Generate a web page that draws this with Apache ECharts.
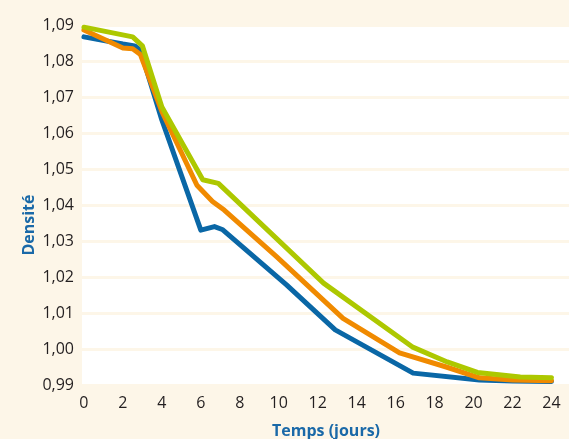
<!DOCTYPE html>
<html>
<head>
<meta charset="utf-8">
<script src="https://cdn.jsdelivr.net/npm/echarts@6/dist/echarts.min.js"></script>
<style>
html,body{margin:0;padding:0;background:#fdf6e8;}
#chart{width:569px;height:439px;}
</style>
</head>
<body>
<div id="chart"></div>
<script>
// Data (Temps en jours, Densité)
var blueDays  = [0, 2, 2.6, 2.9, 4, 6.0, 6.7, 7.1, 10.4, 12.9, 16.9, 20.3, 22, 24];
var blueVals  = [1.0867, 1.0847, 1.0842, 1.0830, 1.0636, 1.0330, 1.0340, 1.0332, 1.0178, 1.0053, 0.9933, 0.9914, 0.9911, 0.9910];
var orangeDays = [0, 2, 2.5, 2.9, 4, 5.8, 6.6, 7.2, 9.9, 13.3, 16.2, 18.6, 20.3, 22, 24];
var orangeVals = [1.0886, 1.0836, 1.0834, 1.0818, 1.0660, 1.0455, 1.0410, 1.0386, 1.0256, 1.0085, 0.9989, 0.9950, 0.9920, 0.9914, 0.9912];
var greenDays = [0, 2.5, 3, 4, 6.1, 6.9, 12.3, 16.85, 18.65, 20.2, 22.4, 24];
var greenVals = [1.0894, 1.0867, 1.0842, 1.0672, 1.0470, 1.0460, 1.0183, 1.0006, 0.9964, 0.9935, 0.9922, 0.9920];
var xTicks = [0, 2, 4, 6, 8, 10, 12, 14, 16, 18, 20, 22, 24];
var yMin = 0.99, yMax = 1.09, yStep = 0.01;
var yTitle = 'Densité';
var xTitle = 'Temps (jours)';

function pairs(xs, ys) { return xs.map(function (x, i) { return [x, ys[i]]; }); }

var chart = echarts.init(document.getElementById('chart'), null, {renderer: 'canvas'});
var font = '"Open Sans", "Noto Sans", sans-serif';
function lineSeries(name, data, color) {
  return {
    name: name, type: 'line', data: data, showSymbol: false, symbol: 'none',
    lineStyle: {color: color, width: 5, cap: 'round', join: 'round'},
    animation: false
  };
}
chart.setOption({
  backgroundColor: '#fdf6e8',
  animation: false,
  grid: {left: 82, right: 0, top: 25, bottom: 54, show: true, backgroundColor: '#ffffff', borderWidth: 0},
  xAxis: {
    type: 'value', min: -0.1, max: 24.9,
    axisLine: {show: false}, axisTick: {show: false}, splitLine: {show: false},
    axisLabel: {customValues: xTicks, color: '#231f20', fontSize: 16, fontFamily: font, margin: 10}
  },
  yAxis: {
    type: 'value', min: yMin, max: yMax, interval: yStep,
    axisLine: {show: false}, axisTick: {show: false},
    splitLine: {show: true, lineStyle: {color: '#fdf6e8', width: 3}},
    axisLabel: {
      color: '#231f20', fontSize: 16, fontFamily: font, margin: 8,
      formatter: function (v) { return v.toFixed(2).replace('.', ','); }
    }
  },
  series: [
    lineSeries('A', pairs(blueDays, blueVals), '#0a67a6'),
    lineSeries('B', pairs(orangeDays, orangeVals), '#f08a00'),
    lineSeries('C', pairs(greenDays, greenVals), '#adc800')
  ],
  graphic: [
    {type: 'text', x: 29, y: 225, rotation: Math.PI / 2,
     style: {text: yTitle, fill: '#1a69a8', font: 'bold 16px ' + font, textAlign: 'center', textVerticalAlign: 'middle'}},
    {type: 'text', x: 326, y: 431,
     style: {text: xTitle, fill: '#1a69a8', font: 'bold 16px ' + font, textAlign: 'center', textVerticalAlign: 'middle'}}
  ]
});
</script>
</body>
</html>
